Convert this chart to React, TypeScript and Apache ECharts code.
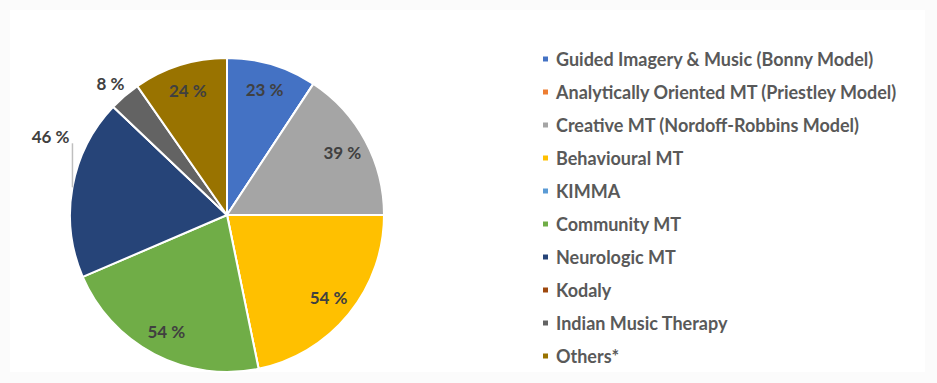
import React, { useEffect, useRef } from "react";
import * as echarts from "echarts";

const categories = [
  "Guided Imagery & Music (Bonny Model)",
  "Analytically Oriented MT (Priestley Model)",
  "Creative MT (Nordoff-Robbins Model)",
  "Behavioural MT",
  "KIMMA",
  "Community MT",
  "Neurologic MT",
  "Kodaly",
  "Indian Music Therapy",
  "Others*",
];
const values = [23, 0, 39, 54, 0, 54, 46, 0, 8, 24];
const colors = [
  "#4472C4",
  "#ED7D31",
  "#A5A5A5",
  "#FFC000",
  "#5B9BD5",
  "#70AD47",
  "#264478",
  "#9E480E",
  "#636363",
  "#997300",
];
const outsideLeader = "Neurologic MT";
const outsidePlain = "Indian Music Therapy";

export default function App() {
  const ref = useRef<HTMLDivElement>(null);
  useEffect(() => {
    if (!ref.current) return;
    const chart = echarts.init(ref.current, null, { renderer: "svg" });
    const font = "Lato, 'Open Sans', sans-serif";
    const mainData = categories.map((name, i) => ({
      name,
      value: values[i],
      itemStyle: { color: colors[i] },
    }));
    const labelData = categories.map((name, i) => {
      const base: any = {
        name,
        value: values[i],
        itemStyle: { color: "rgba(0,0,0,0)", borderWidth: 0 },
      };
      if (values[i] === 0) {
        base.label = { show: false };
        base.labelLine = { show: false };
      } else if (name === outsideLeader) {
        base.label = { position: "outside" };
        base.labelLine = {
          show: true,
          length: 10,
          length2: 0,
          lineStyle: { color: "#BFBFBF", width: 1.5 },
        };
      } else if (name === outsidePlain) {
        base.label = { position: "outside" };
        base.labelLine = {
          show: true,
          length: 19,
          length2: 0,
          lineStyle: { opacity: 0 },
        };
      }
      return base;
    });
    chart.setOption({
      animation: false,
      backgroundColor: "#FBFBFB",
      graphic: [
        {
          type: "rect",
          z: -10,
          silent: true,
          shape: { x: 10, y: 10, width: 915, height: 362 },
          style: { fill: "#FFFFFF" },
        },
      ],
      legend: {
        orient: "vertical",
        left: 536,
        top: 44,
        itemWidth: 7,
        itemHeight: 7,
        itemGap: 13,
        icon: "rect",
        selectedMode: false,
        data: categories,
        textStyle: {
          fontFamily: font,
          fontWeight: "bold",
          fontSize: 18,
          lineHeight: 20,
          color: "#595959",
          padding: [0, 0, 0, 2],
        },
      },
      series: [
        {
          type: "pie",
          center: [227, 215],
          radius: [0, 157],
          startAngle: 90,
          clockwise: true,
          avoidLabelOverlap: false,
          silent: true,
          label: { show: false },
          labelLine: { show: false },
          itemStyle: { borderColor: "#FFFFFF", borderWidth: 2 },
          data: mainData,
        },
        {
          type: "pie",
          center: [227, 215],
          radius: [99, 157],
          startAngle: 90,
          clockwise: true,
          avoidLabelOverlap: false,
          silent: true,
          z: 3,
          label: {
            show: true,
            position: "inside",
            formatter: (p: any) => `${p.value} %`,
            fontFamily: font,
            fontWeight: "bold",
            fontSize: 17,
            color: "#404040",
          },
          labelLine: { show: false },
          labelLayout: (p: any) => {
            const name = categories[p.dataIndex];
            const pts = p.labelLinePoints;
            if (!pts) return {};
            if (name === outsideLeader) {
              const a = pts[0];
              return {
                x: a[0] - 3,
                y: a[1] - 51,
                align: "right",
                verticalAlign: "middle",
                labelLinePoints: [a, [a[0], a[1] - 44]],
              };
            }
            if (name === outsidePlain) {
              const b = pts[1];
              return {
                x: b[0] - 2,
                y: b[1] + 2,
                align: "center",
                verticalAlign: "middle",
              };
            }
            return {};
          },
          data: labelData,
        },
      ],
    });
    return () => chart.dispose();
  }, []);
  return (
    <div
      ref={ref}
      style={{ position: "fixed", left: 0, top: 0, width: 937, height: 383 }}
    />
  );
}
